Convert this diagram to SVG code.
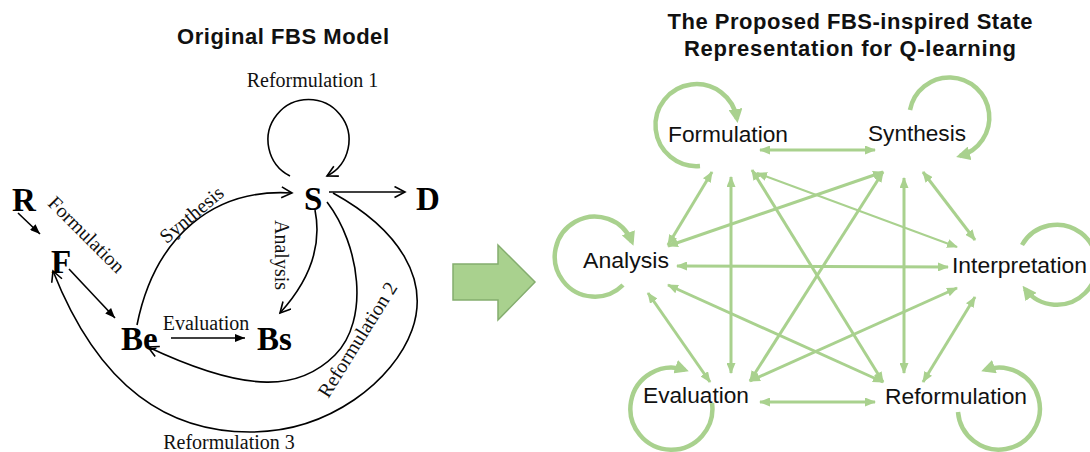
<svg xmlns="http://www.w3.org/2000/svg" width="1090" height="452" viewBox="0 0 1090 452">
<defs>
<style>
.title{font-family:"Liberation Sans",Arial,sans-serif;font-weight:bold;font-size:22px;fill:#111}
.big{font-family:"Liberation Serif","Times New Roman",serif;font-weight:bold;font-size:33px;fill:#000}
.lab{font-family:"Liberation Serif","Times New Roman",serif;font-size:20px;fill:#111}
.node{font-family:"Liberation Sans",Arial,sans-serif;font-size:22px;fill:#111}
.bl{fill:none;stroke:#000;stroke-width:1.6}
.gl{fill:none;stroke:#a9d18e;stroke-width:3}
.gt{fill:none;stroke:#a9d18e;stroke-width:2}
.lp{fill:none;stroke:#a9d18e;stroke-width:4.5}
</style>
<marker id="bf" markerUnits="userSpaceOnUse" markerWidth="10" markerHeight="8" refX="10" refY="4" orient="auto"><path d="M0,0 L10,4 L0,8 z" fill="#000"/></marker>
<marker id="bv" markerUnits="userSpaceOnUse" markerWidth="14" markerHeight="14" refX="11.5" refY="6" orient="auto"><path d="M1,0.5 L11.5,6 L1,11.5" fill="none" stroke="#000" stroke-width="1.6"/></marker>
<marker id="ga" markerUnits="userSpaceOnUse" markerWidth="11" markerHeight="9" refX="10" refY="4.5" orient="auto-start-reverse"><path d="M0,0 L11,4.5 L0,9 z" fill="#a9d18e"/></marker>
<marker id="la" markerUnits="userSpaceOnUse" markerWidth="14" markerHeight="14" refX="10" refY="7" orient="auto"><path d="M0,0 L14,7 L0,14 z" fill="#a9d18e"/></marker>
</defs>
<rect width="1090" height="452" fill="#fff"/>

<text class="title" x="283" y="44" text-anchor="middle" textLength="212">Original FBS Model</text>
<text class="title" x="850" y="29" text-anchor="middle" textLength="365">The Proposed FBS-inspired State</text>
<text class="title" x="850" y="56" text-anchor="middle" textLength="332">Representation for Q-learning</text>

<g id="nodes-left">
<g id="R"><text class="big" x="12" y="211">R</text></g>
<g id="F"><text class="big" x="51" y="273">F</text></g>
<g id="Be"><text class="big" x="121" y="350">Be</text></g>
<g id="Bs"><text class="big" x="257" y="350">Bs</text></g>
<g id="S"><text class="big" x="304" y="210">S</text></g>
<g id="D"><text class="big" x="416" y="210">D</text></g>
</g>

<g id="connectors-left">
<path class="bl" d="M18,213 L40,234" marker-end="url(#bf)"/>
<path class="bl" d="M69,269 L115,318" marker-end="url(#bf)"/>
<path class="bl" d="M171,338 L245,338" marker-end="url(#bf)"/>
<path class="bl" d="M137,325 C155,235 215,188 292,193" marker-end="url(#bv)"/>
<path class="bl" d="M315,210 C322,245 310,280 280,313" marker-end="url(#bv)"/>
<path class="bl" d="M290,176 A40.5,40.5 0 1 1 327,176" marker-end="url(#bv)"/>
<path class="bl" d="M329,192 L405,192" marker-end="url(#bv)"/>
<path class="bl" d="M327,202 C360,245 370,320 335,355 C300,390 250,395 148,347" marker-end="url(#bv)"/>
<path class="bl" d="M333,193 C400,230 430,280 412,330 C394,380 330,432 250,432 C170,432 100,390 53,271" marker-end="url(#bv)"/>
</g>

<g id="labels-left">
<text class="lab" x="312.5" y="87" text-anchor="middle">Reformulation 1</text>
<text class="lab" x="206" y="330" text-anchor="middle">Evaluation</text>
<text class="lab" x="229" y="449" text-anchor="middle">Reformulation 3</text>
<text class="lab" text-anchor="middle" transform="translate(86,235) rotate(45)" y="6">Formulation</text>
<text class="lab" text-anchor="middle" transform="translate(192,215) rotate(-40)" y="6">Synthesis</text>
<text class="lab" text-anchor="middle" transform="translate(281,255) rotate(90)" y="6">Analysis</text>
<text class="lab" text-anchor="middle" transform="translate(358,340) rotate(-58)" y="6">Reformulation 2</text>
</g>

<polygon id="transition-arrow" points="453,264 498,264 498,245 535,282 498,320 498,300 453,300" fill="#a9d18e" stroke="#84ad6e" stroke-width="1.5"/>

<g id="connectors-right">
<line class="gl" x1="760" y1="150" x2="875" y2="150" marker-start="url(#ga)" marker-end="url(#ga)"/>
<line class="gl" x1="712" y1="172" x2="668" y2="245" marker-start="url(#ga)" marker-end="url(#ga)"/>
<line class="gl" x1="731" y1="177" x2="731" y2="373" marker-start="url(#ga)" marker-end="url(#ga)"/>
<line class="gl" x1="752" y1="170" x2="883" y2="382" marker-start="url(#ga)" marker-end="url(#ga)"/>
<line class="gt" x1="757" y1="173" x2="957" y2="247" marker-start="url(#ga)" marker-end="url(#ga)"/>
<line class="gl" x1="883" y1="172" x2="668" y2="246" marker-start="url(#ga)" marker-end="url(#ga)"/>
<line class="gl" x1="883" y1="172" x2="750" y2="381" marker-start="url(#ga)" marker-end="url(#ga)"/>
<line class="gl" x1="904" y1="178" x2="904" y2="373" marker-start="url(#ga)" marker-end="url(#ga)"/>
<line class="gl" x1="923" y1="172" x2="975" y2="240" marker-start="url(#ga)" marker-end="url(#ga)"/>
<line class="gl" x1="677" y1="266" x2="948" y2="267" marker-start="url(#ga)" marker-end="url(#ga)"/>
<line class="gl" x1="648" y1="293" x2="710" y2="382" marker-start="url(#ga)" marker-end="url(#ga)"/>
<line class="gl" x1="668" y1="285" x2="883" y2="382" marker-start="url(#ga)" marker-end="url(#ga)"/>
<line class="gl" x1="750" y1="381" x2="957" y2="288" marker-start="url(#ga)" marker-end="url(#ga)"/>
<line class="gl" x1="760" y1="402" x2="875" y2="402" marker-start="url(#ga)" marker-end="url(#ga)"/>
<line class="gl" x1="975" y1="297" x2="923" y2="382" marker-start="url(#ga)" marker-end="url(#ga)"/>
<path class="lp" d="M700,166 A41,41 0 1 1 737,119" marker-end="url(#la)"/>
<path class="lp" d="M910,110 A40,40 0 1 1 960,156" marker-end="url(#la)"/>
<path class="lp" d="M623,285 A40,40 0 1 1 632,242" marker-end="url(#la)"/>
<path class="lp" d="M1022,245 A40,40 0 1 1 1025,289" marker-end="url(#la)"/>
<path class="lp" d="M712,403 A41,41 0 1 1 685,370" marker-end="url(#la)"/>
<path class="lp" d="M958,412 A41,41 0 1 0 985,370" marker-end="url(#la)"/>
</g>

<g id="nodes-right">
<g id="Formulation"><text class="node" x="668" y="142" textLength="120" lengthAdjust="spacingAndGlyphs">Formulation</text></g>
<g id="Synthesis"><text class="node" x="868" y="141" textLength="98" lengthAdjust="spacingAndGlyphs">Synthesis</text></g>
<g id="Analysis"><text class="node" x="583" y="268" textLength="86" lengthAdjust="spacingAndGlyphs">Analysis</text></g>
<g id="Interpretation"><text class="node" x="952" y="273" textLength="135" lengthAdjust="spacingAndGlyphs">Interpretation</text></g>
<g id="Evaluation"><text class="node" x="643" y="403" textLength="106" lengthAdjust="spacingAndGlyphs">Evaluation</text></g>
<g id="Reformulation"><text class="node" x="885" y="404" textLength="142" lengthAdjust="spacingAndGlyphs">Reformulation</text></g>
</g>
</svg>
